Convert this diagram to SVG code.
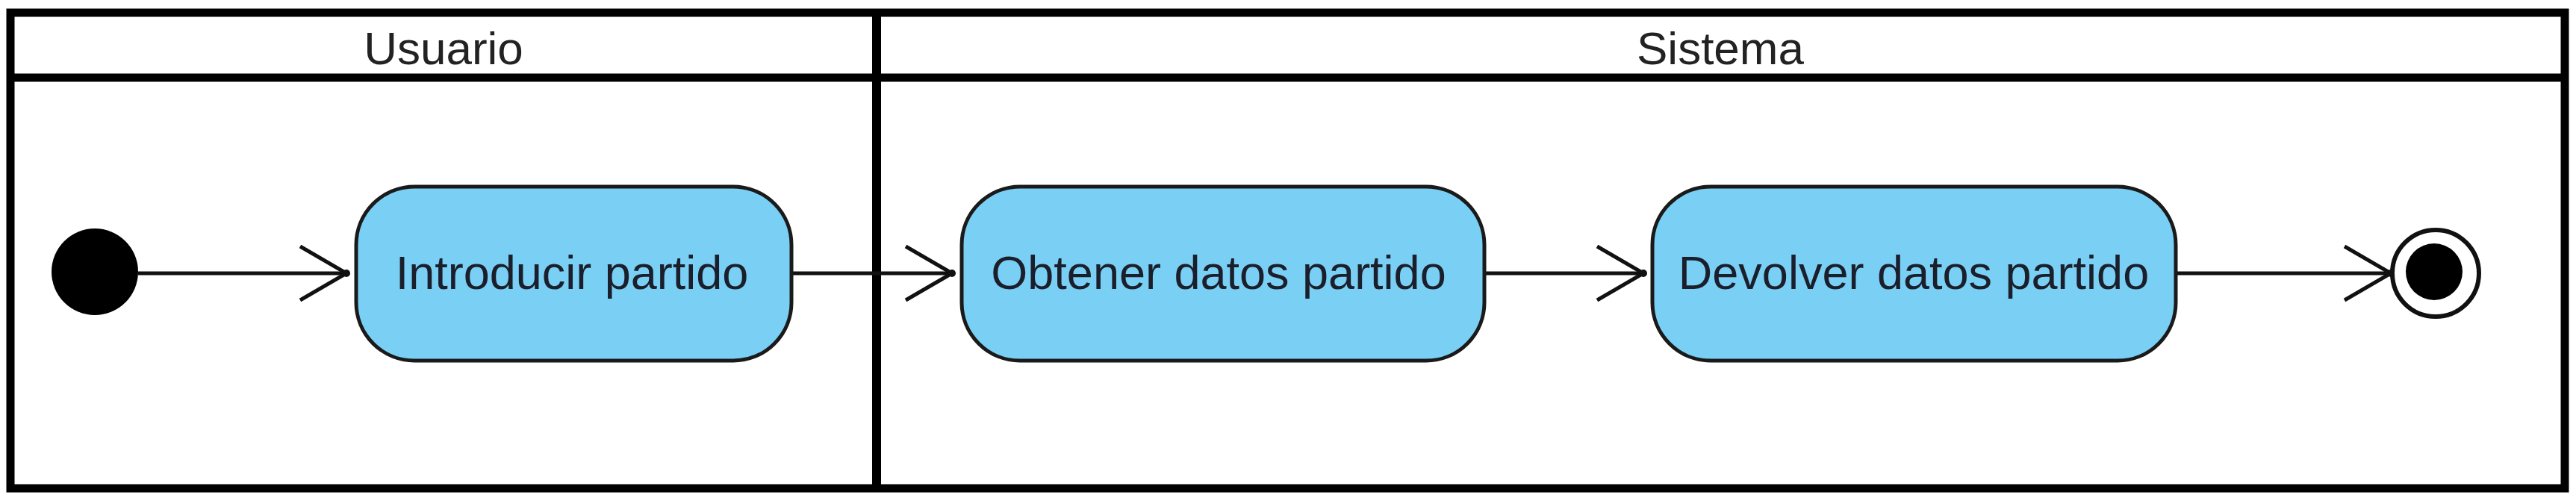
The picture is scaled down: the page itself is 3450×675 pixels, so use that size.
<svg xmlns="http://www.w3.org/2000/svg" width="3450" height="675" viewBox="0 0 3450 675">
<defs>
<style>
.frame{fill:none;stroke:#000;stroke-width:11}
.lane{fill:none;stroke:#000;stroke-width:12}
.act{fill:#7ACFF5;stroke:#1a1a1a;stroke-width:5}
.lbl{font-family:"Liberation Sans",Arial,sans-serif;font-size:63px;fill:#1a1f2b;text-anchor:middle}
.hdr{font-family:"Liberation Sans",Arial,sans-serif;font-size:62px;fill:#222;text-anchor:middle}
.edge{fill:none;stroke:#111;stroke-width:5}
.head{fill:none;stroke:#111;stroke-width:5;stroke-linejoin:miter}
</style>
</defs>
<rect width="3450" height="675" fill="#fff"/>
<g id="swimlanes">
<rect class="frame" x="14" y="17" width="3421" height="637"/>
<line class="frame" x1="14" y1="104" x2="3435" y2="104"/>
<line class="lane" x1="1174" y1="17" x2="1174" y2="654"/>
<text class="hdr" x="594" y="86">Usuario</text>
<text class="hdr" x="2304" y="86">Sistema</text>
</g>
<g id="connectors">
<line class="edge" x1="185" y1="366" x2="464" y2="366"/>
<polyline class="head" points="402,330 464,366 402,402"/>
<circle cx="464" cy="366" r="5" fill="#111"/>
<line class="edge" x1="1060" y1="366" x2="1275" y2="366"/>
<polyline class="head" points="1213,330 1275,366 1213,402"/>
<circle cx="1275" cy="366" r="5" fill="#111"/>
<line class="edge" x1="1988" y1="366" x2="2201" y2="366"/>
<polyline class="head" points="2139,330 2201,366 2139,402"/>
<circle cx="2201" cy="366" r="5" fill="#111"/>
<line class="edge" x1="2914" y1="366" x2="3202" y2="366"/>
<polyline class="head" points="3140,330 3202,366 3140,402"/>
<circle cx="3202" cy="366" r="5" fill="#111"/>
</g>
<g id="initial">
<circle cx="127" cy="364" r="58" fill="#000"/>
</g>
<g id="introducir-partido">
<rect class="act" x="477" y="250" width="583" height="233" rx="78" ry="78"/>
<text class="lbl" x="766" y="387">Introducir partido</text>
</g>
<g id="obtener-datos-partido">
<rect class="act" x="1288" y="250" width="700" height="233" rx="78" ry="78"/>
<text class="lbl" x="1632" y="387">Obtener datos partido</text>
</g>
<g id="devolver-datos-partido">
<rect class="act" x="2213" y="250" width="701" height="233" rx="78" ry="78"/>
<text class="lbl" x="2563" y="387">Devolver datos partido</text>
</g>
<g id="final">
<circle cx="3262" cy="366" r="58" fill="#fff" stroke="#111" stroke-width="6"/>
<circle cx="3260" cy="364" r="38" fill="#000"/>
</g>
</svg>
